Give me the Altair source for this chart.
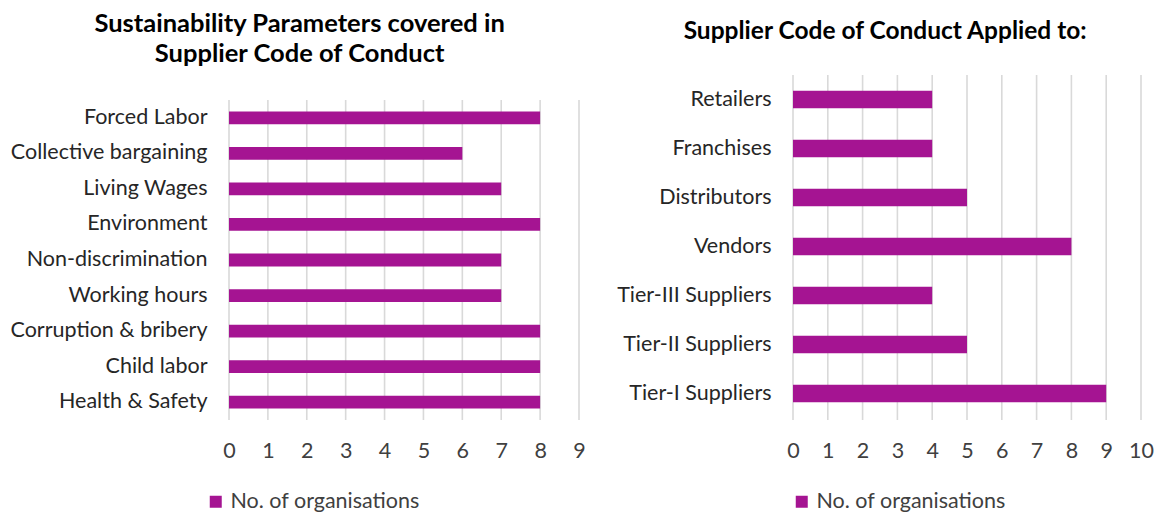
import altair as alt
import pandas as pd

params = ["Forced Labor", "Collective bargaining", "Living Wages", "Environment",
          "Non-discrimination", "Working hours", "Corruption & bribery",
          "Child labor", "Health & Safety"]
params_vals = [8, 6, 7, 8, 7, 7, 8, 8, 8]
params_ticks = [0, 1, 2, 3, 4, 5, 6, 7, 8, 9]

applied = ["Retailers", "Franchises", "Distributors", "Vendors",
           "Tier-III Suppliers", "Tier-II Suppliers", "Tier-I Suppliers"]
applied_vals = [4, 4, 5, 8, 4, 5, 9]
applied_ticks = [0, 1, 2, 3, 4, 5, 6, 7, 8, 9, 10]

series = "No. of organisations"
color = "#A51492"
font = "Lato"
FS = 21.5
H = 345


def panel(cats, vals, ticks, title, w, band_top, band_bot, legx, legy, toff, tdx, tsize):
    df = pd.DataFrame({"cat": cats, "val": vals, "s": series})
    gdf = pd.DataFrame({"g": ticks})
    xmax = ticks[-1]
    xscale = alt.Scale(domain=[0, xmax], nice=False)
    xaxis = alt.Axis(title=None, values=ticks, grid=False, domain=False, ticks=False,
                     labelFontSize=FS, labelColor="#404040", labelPadding=20,
                     labelFont=font, labelFlush=False)
    grid = alt.Chart(gdf).mark_rule(color="#d9d9d9", strokeWidth=1.6).encode(
        x=alt.X("g:Q", scale=xscale, axis=xaxis),
        y=alt.value(band_top), y2=alt.value(H),
    )
    bars = alt.Chart(df).mark_bar(color=color).encode(
        x=alt.X("val:Q", scale=xscale, axis=xaxis),
        y=alt.Y("cat:N", sort=cats,
                scale=alt.Scale(paddingInner=0.64, paddingOuter=0.32,
                                range=[band_top, band_bot]),
                axis=alt.Axis(title=None, domain=False, ticks=False, labelFontSize=FS,
                              labelColor="#262626", labelPadding=22, labelFont=font,
                              labelLimit=400)),
        color=alt.Color("s:N", scale=alt.Scale(range=[color]),
                        legend=alt.Legend(title=None, orient="none", legendX=legx,
                                          legendY=legy, symbolType="square",
                                          symbolSize=144, labelFontSize=FS,
                                          labelColor="#404040", labelFont=font,
                                          labelOffset=4, symbolStrokeWidth=0,
                                          labelLimit=400)),
    )
    return alt.layer(grid, bars).properties(
        width=w, height=H,
        title=alt.TitleParams(title, fontSize=tsize, font=font, fontWeight="bold",
                              color="#000000", anchor="middle", frame="bounds",
                              offset=toff, lineHeight=30, dx=tdx),
    )


left = panel(params, params_vals, params_ticks,
             ["Sustainability Parameters covered in", "Supplier Code of Conduct"],
             350, 25, 345, -24, 416, 8, 2, 25.5)
right = panel(applied, applied_vals, applied_ticks, "Supplier Code of Conduct Applied to:",
              348, 0, 343, -2, 416, 30, 0, 24.5)

chart = alt.hconcat(left, right, spacing=30).resolve_scale(
    color="independent").configure_view(stroke=None).properties(
    background="white", padding={"left": 2, "top": 3, "right": 0, "bottom": 0})

chart.save("out.html", embed_options={"renderer": "svg", "actions": False})
